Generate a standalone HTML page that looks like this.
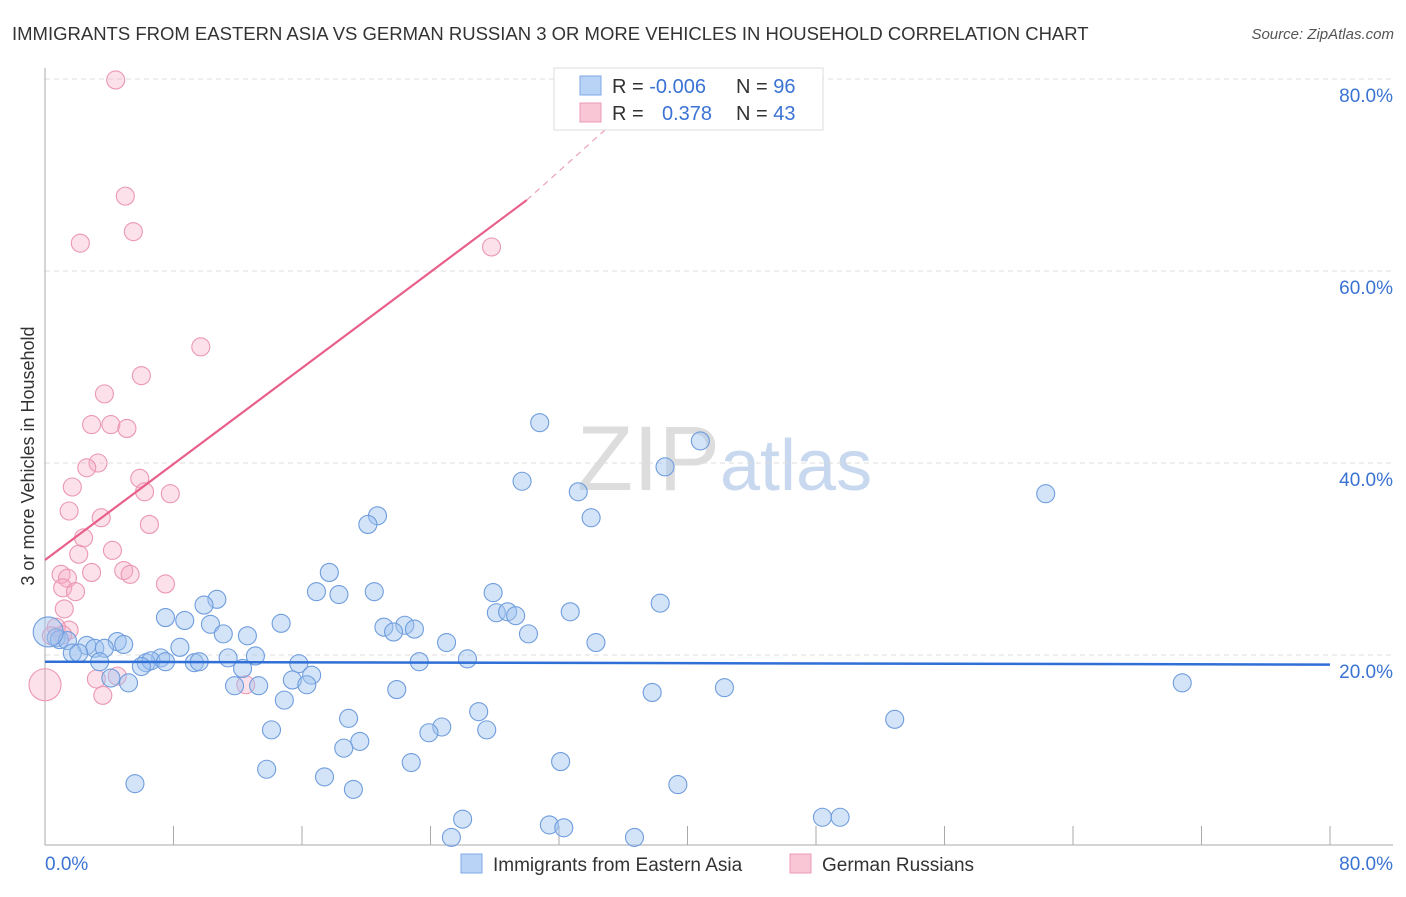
<!DOCTYPE html>
<html><head><meta charset="utf-8"><style>
body{margin:0;background:#fff;font-family:"Liberation Sans",sans-serif;}
svg text{font-family:"Liberation Sans",sans-serif;}
</style></head><body>
<svg id="chart" width="1406" height="892" xmlns="http://www.w3.org/2000/svg">
<text x="12" y="40" font-size="18.5" fill="#333">IMMIGRANTS FROM EASTERN ASIA VS GERMAN RUSSIAN 3 OR MORE VEHICLES IN HOUSEHOLD CORRELATION CHART</text>
<text x="1394" y="39" font-size="15" fill="#555" font-style="italic" text-anchor="end">Source: ZipAtlas.com</text>
<text x="720" y="490" font-size="92" fill="#ddd" text-anchor="end" font-family="Liberation Serif">ZIP</text>
<text x="720" y="490" font-size="72" fill="#c8d8ef">atlas</text>
<text transform="translate(34,456) rotate(-90)" font-size="18" fill="#333" text-anchor="middle">3 or more Vehicles in Household</text>
<g id="grid"></g><g id="axes"></g><g id="pts"></g><g id="trends"></g>
<g>
<rect x="554" y="68" width="269" height="62" fill="#fff" stroke="#ddd"/>
<rect x="580" y="76" width="21" height="19" fill="#b8d3f5" stroke="#7ea9e6"/>
<rect x="580" y="103" width="21" height="19" fill="#f9c6d6" stroke="#ec9ab5"/>
<text x="612" y="93" font-size="20" fill="#333">R = <tspan fill="#3b73d4">-0.006</tspan></text>
<text x="736" y="93" font-size="20" fill="#333">N = <tspan fill="#3b73d4">96</tspan></text>
<text x="612" y="120" font-size="20" fill="#333">R = <tspan fill="#3b73d4" x="662">0.378</tspan></text>
<text x="736" y="120" font-size="20" fill="#333">N = <tspan fill="#3b73d4">43</tspan></text>
</g>
<g>
<rect x="461" y="854" width="21" height="19" fill="#b8d3f5" stroke="#7ea9e6"/>
<text x="493" y="871" font-size="19" fill="#333">Immigrants from Eastern Asia</text>
<rect x="790" y="854" width="21" height="19" fill="#f9c6d6" stroke="#ec9ab5"/>
<text x="822" y="871" font-size="19" fill="#333">German Russians</text>
</g>
</svg>
<script>
const blueX=[30.8,40.8,38.6,29.7,33.2,62.3,34.0,20.7,20.1,17.7,16.9,18.3,20.5,27.9,10.7,9.9,38.3,32.7,28.1,28.8,29.3,7.5,8.7,14.7,10.3,21.1,22.4,23.0,21.7,30.1,11.1,12.6,34.3,25.0,4.5,4.9,8.4,0.7,0.9,1.4,2.6,3.1,1.7,2.1,3.7,3.4,7.2,6.3,6.6,7.5,9.3,9.6,11.4,13.1,15.8,23.3,26.3,6.0,12.3,16.6,15.4,4.1,5.2,11.8,13.3,16.3,21.9,37.8,42.3,70.8,14.9,18.9,27.0,52.9,14.1,24.7,23.9,27.5,19.6,18.6,32.1,22.8,13.8,17.4,5.6,39.4,19.2,48.4,49.5,26.0,31.4,32.3,36.7,25.3];
const blueY=[44.2,42.3,39.6,38.1,37.0,36.8,34.3,34.5,33.6,28.6,26.6,26.3,26.6,26.5,25.8,25.2,25.4,24.5,24.4,24.5,24.1,23.9,23.6,23.3,23.2,22.9,23.1,22.7,22.4,22.2,22.2,22.0,21.3,21.3,21.4,21.1,20.8,21.8,21.6,21.5,21.0,20.7,20.2,20.2,20.7,19.3,19.7,19.2,19.4,19.3,19.2,19.3,19.7,19.9,19.1,19.3,19.6,18.8,18.6,17.9,17.4,17.6,17.1,16.8,16.8,16.9,16.4,16.1,16.6,17.1,15.3,13.4,14.1,13.3,12.2,12.5,11.9,12.2,11.0,10.3,8.9,8.8,8.1,7.3,6.6,6.5,6.0,3.1,3.1,2.9,2.3,2.0,1.0,1.0];
const pinkX=[4.4,5.0,5.5,2.2,27.8,9.7,6.0,3.7,2.9,4.1,5.1,3.3,2.6,5.9,1.7,6.2,7.8,1.5,3.5,6.5,2.4,4.2,2.1,1.0,2.9,1.4,4.9,5.3,7.5,1.1,1.9,1.2,1.5,0.7,0.4,1.1,4.5,3.2,12.5,3.6];
const pinkY=[79.9,67.8,64.1,62.9,62.5,52.1,49.1,47.2,44.0,44.0,43.6,40.0,39.5,38.4,37.5,37.0,36.8,35.0,34.3,33.6,32.2,30.9,30.5,28.4,28.6,28.0,28.8,28.4,27.4,27.0,26.6,24.8,22.6,22.9,22.0,22.1,17.8,17.5,16.9,15.8];
const bigBlue=[[0.2,22.4]];
const bigPink=[[0.0,16.9]];
const yTicks=[20,40,60,80];
const yTickLabels=["20.0%","40.0%","60.0%","80.0%"];
const blueTrend=[19.3,19.0];
const pinkTrend=[29.9,67.4,77.3];
const pinkTrendX=[0,30,36.6];
const ns="http://www.w3.org/2000/svg";
const X=v=>45+v*1285/80, Y=v=>847-v*9.6;
function mk(t,a,p){const e=document.createElementNS(ns,t);for(const k in a)e.setAttribute(k,a[k]);document.getElementById(p).appendChild(e);return e;}
yTicks.forEach((t,i)=>{
 const l=mk('line',{x1:45,x2:1393,y1:Y(t),y2:Y(t),stroke:'#ddd','stroke-dasharray':'5,4'},'grid');
 
 
 const tx=mk('text',{x:1393,y:Y(t)+23,'font-size':19,fill:'#3b73d4','text-anchor':'end'},'axes');
 tx.textContent=yTickLabels[i];
 
 
});
mk('line',{x1:45,x2:1393,y1:845,y2:845,stroke:'#aaa'},'axes');
mk('line',{x1:45,x2:45,y1:68,y2:845,stroke:'#aaa'},'axes');
for(let i=0;i<=10;i++){const tk=mk('line',{x1:X(i*8),x2:X(i*8),y1:826,y2:845,stroke:'#aaa'},'axes');
 
 }
const x0=mk('text',{x:45,y:870,'font-size':19,fill:'#3b73d4'},'axes');x0.textContent='0.0%';


const x1=mk('text',{x:1393,y:870,'font-size':19,fill:'#3b73d4','text-anchor':'end'},'axes');x1.textContent='80.0%';


function dot(x,y,r,c,name){const e=mk('circle',{cx:X(x),cy:Y(y),r:r,fill:c[0],stroke:c[1],'stroke-width':1.1},'pts');
 
 }
const BC=['rgba(160,196,240,0.45)','#6f9ddd'],PC=['rgba(245,170,195,0.35)','#eb97b2'];
pinkX.forEach((x,i)=>dot(x,pinkY[i],9,PC,'german-russian-point'));
bigPink.forEach(p=>dot(p[0],p[1],16,PC,'german-russian-point'));
blueX.forEach((x,i)=>dot(x,blueY[i],9,BC,'eastern-asia-point'));
bigBlue.forEach(p=>dot(p[0],p[1],15,BC,'eastern-asia-point'));
const bt=mk('line',{x1:X(0),x2:X(80),y1:Y(blueTrend[0]),y2:Y(blueTrend[1]),stroke:'#2f6fd6','stroke-width':2.5},'trends');


const pt=mk('line',{x1:X(pinkTrendX[0]),x2:X(pinkTrendX[1]),y1:Y(pinkTrend[0]),y2:Y(pinkTrend[1]),stroke:'#e8608a','stroke-width':2.2},'trends');


const pd=mk('line',{x1:X(pinkTrendX[1]),x2:X(pinkTrendX[2]),y1:Y(pinkTrend[1]),y2:Y(pinkTrend[2]),stroke:'#eaa0b8','stroke-width':1.2,'stroke-dasharray':'6,5'},'trends');


</script>
</body></html>
